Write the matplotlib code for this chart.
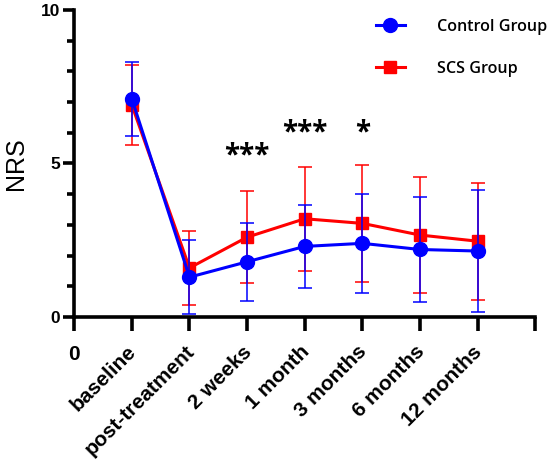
import numpy as np
import matplotlib.pyplot as plt
import matplotlib.transforms as mtransforms
from matplotlib.lines import Line2D
from matplotlib.ticker import MultipleLocator

# time points
labels = ["baseline", "post-treatment", "2 weeks", "1 month", "3 months", "6 months", "12 months"]
x = np.arange(1, len(labels) + 1)

# NRS means and SDs
control_mean = [7.1, 1.3, 1.8, 2.3, 2.4, 2.2, 2.15]
control_sd = [1.2, 1.2, 1.27, 1.34, 1.6, 1.7, 2.0]
scs_mean = [6.9, 1.6, 2.6, 3.2, 3.05, 2.67, 2.47]
scs_sd = [1.3, 1.2, 1.5, 1.7, 1.9, 1.9, 1.9]

# significance marks
sig_x = [3, 4, 5]
sig_text = ["***", "***", "*"]
sig_y = [5.25, 6.0, 6.0]

BLUE = "#0000ff"
RED = "#ff0000"

fig = plt.figure(figsize=(5.5, 4.67), dpi=100)
ax = fig.add_axes([0.135, 0.321, 0.838, 0.658])

ax.errorbar(x, scs_mean, yerr=scs_sd, color=RED, marker="s", markersize=9,
            linewidth=2.2, elinewidth=1.1, capsize=4.7, capthick=1.1, zorder=2)
ax.errorbar(x, control_mean, yerr=control_sd, color=BLUE, marker="o", markersize=10,
            linewidth=2.2, elinewidth=1.1, capsize=4.7, capthick=1.1, zorder=3)

for xi, t, yi in zip(sig_x, sig_text, sig_y):
    ax.text(xi, yi, t, ha="center", va="center", fontsize=20, fontweight="bold",
            family="Open Sans")

ax.set_xlim(0, 8)
ax.set_ylim(0, 10)
ax.set_xticks(range(0, 9))
ax.set_xticklabels([])
ax.yaxis.set_major_locator(MultipleLocator(5))
ax.yaxis.set_minor_locator(MultipleLocator(1))

# x labels drawn as text under the ticks (rotated, like the original)
xtrans = ax.get_xaxis_transform()
ax.text(0, 0, "0", transform=xtrans + mtransforms.ScaledTranslation(0, -0.37, fig.dpi_scale_trans),
        ha="center", va="center", fontsize=15, fontweight="bold", family="Liberation Sans")
lab_shift = mtransforms.ScaledTranslation(-0.05, -0.25, fig.dpi_scale_trans)
for xi, lab in zip(x, labels):
    ax.text(xi, 0, lab, transform=xtrans + lab_shift, rotation=45, ha="right", va="top",
            rotation_mode="anchor", fontsize=15, fontweight="bold", family="Liberation Sans")

for lab in ax.get_yticklabels():
    lab.set_fontweight("bold")
    lab.set_fontsize(12.5)
    lab.set_family("Liberation Sans")

ax.set_ylabel("NRS", fontsize=18, family="Liberation Sans", labelpad=9)

for side in ["top", "right"]:
    ax.spines[side].set_visible(False)
for side in ["left", "bottom"]:
    ax.spines[side].set_linewidth(2.6)
ax.tick_params(axis="x", which="major", length=10, width=2.6, pad=4)
ax.tick_params(axis="y", which="major", length=8, width=2.6, pad=2)
ax.tick_params(axis="y", which="minor", length=5, width=2.6)

handles = [
    Line2D([], [], color=BLUE, marker="o", markersize=10, linewidth=2.2),
    Line2D([], [], color=RED, marker="s", markersize=9, linewidth=2.2),
]
ax.legend(handles, ["Control Group", "SCS Group"], loc="upper right",
          bbox_to_anchor=(1.058, 1.018), frameon=False, handlelength=1.8,
          handletextpad=2.0, labelspacing=1.6,
          prop={"family": "Open Sans", "weight": "semibold", "size": 11.6})

fig.savefig("out.png", dpi=100)
